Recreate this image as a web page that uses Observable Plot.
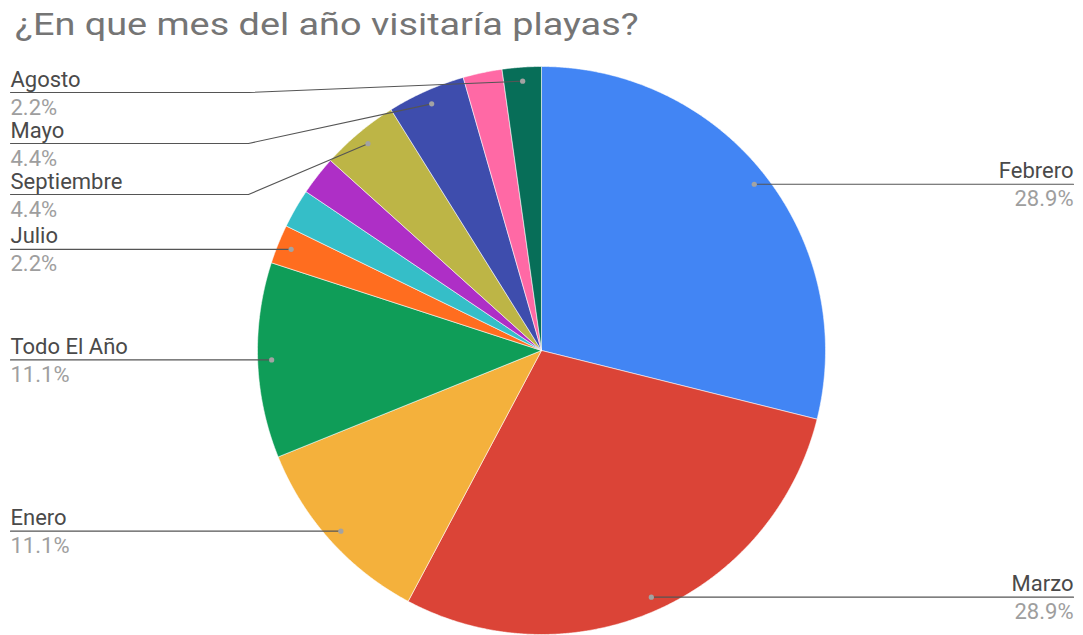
<!DOCTYPE html>
<html>
<head>
<meta charset="utf-8">
<script src="https://cdn.jsdelivr.net/npm/d3@7"></script>
<script src="https://cdn.jsdelivr.net/npm/@observablehq/plot@0.6"></script>
<style>
  body { margin: 0; background: #fff; font-family: Roboto, "Noto Sans", sans-serif; }
  #title { position: relative; width: 1083px; height: 50px; overflow: visible; }
  #title span { position: absolute; left: 15px; top: 9px; font-size: 31px; line-height: 31px;
    color: #757575; white-space: nowrap; transform: scaleX(1.22); transform-origin: 0 0; }
  #chart svg { display: block; }
</style>
</head>
<body>
<div id="title"><span></span></div>
<div id="chart"></div>
<script>
// ---- data ----
const title = "¿En que mes del año visitaría playas?";
const months = ["Febrero", "Marzo", "Enero", "Todo El Año", "Julio", "", "", "Septiembre", "Mayo", "", "Agosto"];
const responses = [13, 13, 5, 5, 1, 1, 1, 2, 2, 1, 1];
const colors = ["#4285F4", "#DB4437", "#F4B13C", "#0F9D58", "#FF6D1F", "#35BEC8", "#AE2FC6", "#BDB546", "#3E4DAD", "#FF69A5", "#076E58"];

document.querySelector("#title span").textContent = title;

// ---- layout ----
const W = 1083, H = 585;
const cx = 541, cy = 300, R = 284, rDot = 270;
const leftX = 10, rightX = 1073, bendX = 248, minY = 42, gap = 51;

const total = d3.sum(responses);
const arcs = d3.pie().sort(null).value(d => d)(responses);
const pt = (a, r) => ({x: cx + r * Math.sin(a), y: cy - r * Math.cos(a)});

// slice polygons
const slicePts = [];
arcs.forEach((a, i) => {
  const c = {x: cx, y: cy, i, color: colors[i]};
  slicePts.push(c);
  const n = Math.max(2, Math.ceil((a.endAngle - a.startAngle) / 0.005));
  for (let k = 0; k <= n; k++) {
    const ang = a.startAngle + (a.endAngle - a.startAngle) * k / n;
    slicePts.push({...pt(ang, R), i, color: colors[i]});
  }
  slicePts.push({...c});
});

// labels
const fmt = d3.format(".1%");
const labels = arcs.map((a, i) => {
  const mid = (a.startAngle + a.endAngle) / 2;
  const d = pt(mid, rDot);
  return {i, name: months[i], pct: fmt(responses[i] / total), side: mid > Math.PI ? "left" : "right", dx: d.x, dy: d.y};
}).filter(l => l.name);

const left = labels.filter(l => l.side === "left").sort((a, b) => a.dy - b.dy);
let prev = -Infinity;
left.forEach(l => { l.y = Math.max(l.dy, prev + gap, minY); prev = l.y; });
const right = labels.filter(l => l.side === "right");
right.forEach(l => { l.y = l.dy; });

const leaderPts = [];
left.forEach(l => {
  leaderPts.push({x: l.dx, y: l.dy, i: l.i});
  if (Math.abs(l.y - l.dy) > 0.5) leaderPts.push({x: bendX, y: l.y, i: l.i});
  leaderPts.push({x: leftX, y: l.y, i: l.i});
});
right.forEach(l => {
  leaderPts.push({x: l.dx, y: l.dy, i: l.i});
  leaderPts.push({x: rightX, y: l.y, i: l.i});
});

const leftText = left.map(l => ({...l, tx: leftX}));
const rightText = right.map(l => ({...l, tx: rightX}));
const fontSize = 22;

const chart = Plot.plot({
  width: W, height: H,
  margin: 0,
  x: {domain: [0, W], range: [0, W], axis: null},
  y: {domain: [0, H], range: [0, H], axis: null},
  color: {type: "identity"},
  style: {fontFamily: "Roboto, 'Noto Sans', sans-serif", background: "#fff"},
  marks: [
    Plot.line(slicePts, {x: "x", y: "y", z: "i", fill: "color", stroke: "#ffffff", strokeWidth: 0.8, strokeOpacity: 0.7, curve: "linear"}),
    Plot.line(leaderPts, {x: "x", y: "y", z: "i", stroke: "#555", strokeWidth: 1.1}),
    Plot.dot(labels, {x: "dx", y: "dy", r: 2.6, fill: "#a3a3a3", stroke: "none"}),
    Plot.text(leftText, {x: "tx", y: "y", text: "name", textAnchor: "start", dy: -13, fontSize, fill: "#4a4a4a"}),
    Plot.text(leftText, {x: "tx", y: "y", text: "pct", textAnchor: "start", dy: 15, fontSize, fill: "#9e9e9e"}),
    Plot.text(rightText, {x: "tx", y: "y", text: "name", textAnchor: "end", dy: -13, fontSize, fill: "#4a4a4a"}),
    Plot.text(rightText, {x: "tx", y: "y", text: "pct", textAnchor: "end", dy: 15, fontSize, fill: "#9e9e9e"})
  ]
});
document.getElementById("chart").appendChild(chart);
</script>
</body>
</html>
